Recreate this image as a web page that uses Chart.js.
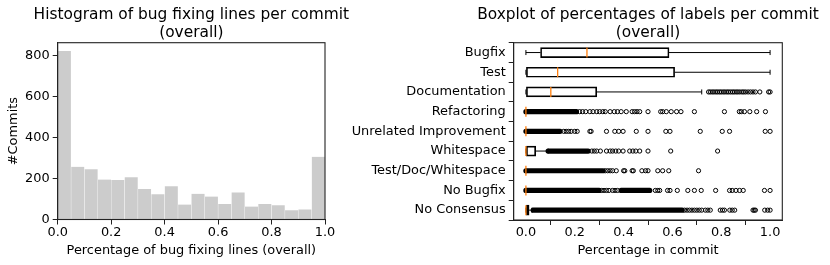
<!DOCTYPE html>
<html>
<head>
<meta charset="utf-8">
<script src="https://cdn.jsdelivr.net/npm/chart.js@4.4.0/dist/chart.umd.min.js"></script>
<style>
  body { margin: 0; background: #fff; }
  #wrap { position: relative; width: 830px; height: 265px; }
  canvas { position: absolute; top: 0; }
  #hist { left: 0; }
  #box { left: 340px; }
</style>
</head>
<body>
<div id="wrap">
  <canvas id="hist" width="370" height="265"></canvas>
  <canvas id="box" width="490" height="265"></canvas>
</div>
<script>
// ---- histogram data (bins of width 0.05) ----
const binLeft = [0, 0.05, 0.1, 0.15, 0.2, 0.25, 0.3, 0.35, 0.4, 0.45,
                 0.5, 0.55, 0.6, 0.65, 0.7, 0.75, 0.8, 0.85, 0.9, 0.95];
const binWidth = 0.05;
const commitCounts = [820, 257, 245, 195, 192, 206, 148, 123, 162, 73,
                      125, 112, 75, 132, 63, 75, 70, 45, 49, 305];
const histTicksX = [0, 0.2, 0.4, 0.6, 0.8, 1.0];
const histTicksY = [0, 200, 400, 600, 800];

// ---- boxplot data ----
const labels = ['Bugfix', 'Test', 'Documentation', 'Refactoring', 'Unrelated Improvement',
                'Whitespace', 'Test/Doc/Whitespace', 'No Bugfix', 'No Consensus'];
const whiskerLow  = [0, 0, 0, 0, 0, 0, 0, 0, 0];
const boxQ1       = [0.06, 0, 0, 0, 0, 0, 0, 0, 0];
const boxMedian   = [0.25, 0.13, 0.102, 0, 0, 0, 0, 0, 0];
const boxQ3       = [0.586, 0.609, 0.29, 0, 0, 0.04, 0, 0, 0.013];
const whiskerHigh = [1.0, 1.0, 0.72, 0, 0, 0.091, 0, 0, 0.025];
const boxTicksX = [0, 0.2, 0.4, 0.6, 0.8, 1.0];

// outliers (circles) per row
const outBugfix = [];
const outTest = [];
const outDocumentation = [0.748, 0.755, 0.763, 0.77, 0.778, 0.785, 0.793, 0.8, 0.808, 0.815, 0.823,
  0.83, 0.838, 0.846, 0.853, 0.861, 0.868, 0.876, 0.885, 0.892, 0.9, 0.91, 0.92, 0.93, 0.94, 0.958, 0.994, 1.0];
const outRefactoring = [0.22, 0.232, 0.245, 0.262, 0.275, 0.29, 0.302, 0.315, 0.325, 0.345, 0.362,
  0.375, 0.39, 0.411, 0.435, 0.445, 0.455, 0.466, 0.5, 0.552, 0.56, 0.575, 0.595, 0.617, 0.635,
  0.69, 0.813, 0.874, 0.882, 0.895, 0.917, 0.945, 0.981];
const outUnrelated = [0.155, 0.165, 0.175, 0.185, 0.2, 0.21, 0.262, 0.267, 0.33, 0.364, 0.38, 0.398,
  0.452, 0.5, 0.573, 0.59, 0.714, 0.804, 0.834, 0.98, 1.0];
const outWhitespace = [0.27, 0.28, 0.29, 0.305, 0.33, 0.345, 0.355, 0.368, 0.38, 0.398, 0.425,
  0.438, 0.45, 0.466, 0.5, 0.593, 0.785];
const outTestDocWs = [0.325, 0.335, 0.345, 0.355, 0.37, 0.4, 0.405, 0.435, 0.44, 0.475, 0.49, 0.5,
  0.54, 0.56, 0.585, 0.707];
const outNoBugfix = [0.31, 0.32, 0.33, 0.34, 0.355, 0.365, 0.375, 0.53, 0.54, 0.548, 0.58, 0.59, 0.62,
  0.663, 0.69, 0.718, 0.777, 0.834, 0.845, 0.86, 0.875, 0.89, 0.977, 1.0];
const outNoConsensus = [0.65, 0.66, 0.67, 0.68, 0.69, 0.7, 0.71, 0.72, 0.735, 0.745, 0.755, 0.796,
  0.805, 0.813, 0.835, 0.845, 0.855, 0.93, 0.935, 0.94, 0.978, 0.99, 1.0];

// stretches where the outlier circles overlap into a solid run [from, to]
const denseBugfix = [];
const denseTest = [];
const denseDocumentation = [];
const denseRefactoring = [[0, 0.207]];
const denseUnrelated = [[0, 0.14]];
const denseWhitespace = [[0.091, 0.255]];
const denseTestDocWs = [[0, 0.316]];
const denseNoBugfix = [[0, 0.3], [0.39, 0.507]];
const denseNoConsensus = [[0.03, 0.64]];

const outliers = [outBugfix, outTest, outDocumentation, outRefactoring, outUnrelated,
                  outWhitespace, outTestDocWs, outNoBugfix, outNoConsensus];
const denseRuns = [denseBugfix, denseTest, denseDocumentation, denseRefactoring, denseUnrelated,
                   denseWhitespace, denseTestDocWs, denseNoBugfix, denseNoConsensus];

Chart.defaults.font.family = '"DejaVu Sans", sans-serif';
Chart.defaults.font.size = 12.9;
Chart.defaults.color = '#000';

const AXIS = '#222';

// matplotlib-like full frame + two-line title centred over the plot area
const frameTitle = {
  id: 'frameTitle',
  afterDraw(chart, args, opts) {
    const { ctx, chartArea: a } = chart;
    ctx.save();
    ctx.strokeStyle = AXIS;
    ctx.lineWidth = 1.1;
    ctx.strokeRect(a.left, a.top, a.right - a.left, a.bottom - a.top);
    ctx.fillStyle = '#000';
    ctx.font = '15.4px "DejaVu Sans"';
    ctx.textAlign = 'center';
    ctx.textBaseline = 'alphabetic';
    const cx = (a.left + a.right) / 2;
    opts.lines.forEach((t, i) => ctx.fillText(t, cx, opts.baseline + i * 18.5));
    ctx.restore();
  }
};

const fixedTicks = (vals) => (s) => { s.ticks = vals.map(v => ({ value: v })); };

// ---------- left: histogram ----------
new Chart(document.getElementById('hist'), {
  type: 'bar',
  data: {
    datasets: [{
      data: binLeft.map((b, i) => ({ x: b + binWidth / 2, y: commitCounts[i] })),
      backgroundColor: '#cccccc',
      borderColor: 'rgba(255,255,255,0.25)',
      borderWidth: { left: 0.5, right: 0.5, top: 0, bottom: 0 },
      borderSkipped: false,
      barPercentage: 1,
      categoryPercentage: 1
    }]
  },
  options: {
    responsive: false,
    animation: false,
    devicePixelRatio: 1,
    events: [],
    layout: { padding: { top: 42.7, right: 45, bottom: 0, left: 0 } },
    plugins: {
      legend: { display: false },
      tooltip: { enabled: false },
      frameTitle: { lines: ['Histogram of bug fixing lines per commit', '(overall)'], baseline: 18.8 }
    },
    scales: {
      x: {
        type: 'linear', min: 0, max: 1, offset: false,
        afterBuildTicks: fixedTicks(histTicksX),
        afterFit: (s) => { s.height = 45.5; },
        ticks: { callback: v => v.toFixed(1), maxRotation: 0, autoSkip: false, padding: 0 },
        grid: { drawOnChartArea: false, tickLength: 5, color: AXIS, offset: false },
        border: { color: AXIS },
        title: { display: true, text: 'Percentage of bug fixing lines (overall)', padding: { top: 0, bottom: 6.8 } }
      },
      y: {
        type: 'linear', min: 0, max: 861,
        afterBuildTicks: fixedTicks(histTicksY),
        afterFit: (s) => { s.width = 57.7; },
        ticks: { autoSkip: false, padding: 3 },
        grid: { drawOnChartArea: false, tickLength: 5, color: AXIS },
        border: { color: AXIS },
        title: { display: true, text: '#Commits', padding: { top: 5.5, bottom: 0 } }
      }
    }
  },
  plugins: [frameTitle]
});

// ---------- right: horizontal boxplot ----------
const rows = labels.map((_, i) => i + 1);

const whiskerPts = [];
rows.forEach((p, i) => {
  whiskerPts.push({ x: whiskerLow[i], y: p }, { x: boxQ1[i], y: p }, { x: null, y: null });
  whiskerPts.push({ x: boxQ3[i], y: p }, { x: whiskerHigh[i], y: p }, { x: null, y: null });
});
const capPts = rows.flatMap((p, i) => [{ x: whiskerLow[i], y: p }, { x: whiskerHigh[i], y: p }]);
const medianPts = rows.map((p, i) => ({ x: boxMedian[i], y: p }));
const outlierPts = rows.flatMap((p, i) => outliers[i].map(v => ({ x: v, y: p })));
const densePts = [];
rows.forEach((p, i) => denseRuns[i].forEach(([a, b]) => {
  densePts.push({ x: a, y: p }, { x: b, y: p }, { x: null, y: null });
}));

new Chart(document.getElementById('box'), {
  type: 'bar',
  data: {
    datasets: [
      {
        type: 'bar', indexAxis: 'y', order: 2,
        data: rows.map((p, i) => ({ y: p, x: [boxQ1[i], boxQ3[i]] })),
        backgroundColor: 'rgba(0,0,0,0)',
        borderColor: '#000', borderWidth: 1, borderSkipped: false,
        barThickness: 10
      },
      {
        type: 'line', order: 3, data: whiskerPts,
        borderColor: '#000', borderWidth: 1, pointRadius: 0, spanGaps: false, fill: false
      },
      {
        type: 'scatter', order: 3, data: capPts,
        pointStyle: 'line', pointRotation: 90, pointRadius: 2.5,
        pointBorderColor: '#000', pointBorderWidth: 1
      },
      {
        type: 'line', order: 5, data: densePts,
        borderColor: '#000', borderWidth: 5.2, borderCapStyle: 'round',
        pointRadius: 0, spanGaps: false, fill: false
      },
      {
        type: 'scatter', order: 4, data: outlierPts,
        pointStyle: 'circle', pointRadius: 2.1,
        pointBorderColor: '#000', pointBorderWidth: 1, pointBackgroundColor: 'rgba(0,0,0,0)'
      },
      {
        type: 'scatter', order: 1, data: medianPts,
        pointStyle: 'line', pointRotation: 90, pointRadius: 5,
        pointBorderColor: '#ff7f0e', pointBorderWidth: 1.3
      }
    ]
  },
  options: {
    responsive: false,
    animation: false,
    devicePixelRatio: 1,
    events: [],
    layout: { padding: { top: 42.7, right: 47.7, bottom: 0, left: 0 } },
    plugins: {
      legend: { display: false },
      tooltip: { enabled: false },
      frameTitle: { lines: ['Boxplot of percentages of labels per commit', '(overall)'], baseline: 18.8 }
    },
    scales: {
      x: {
        type: 'linear', min: -0.05, max: 1.05, offset: false,
        afterBuildTicks: fixedTicks(boxTicksX),
        afterFit: (s) => { s.height = 45; },
        ticks: { callback: v => v.toFixed(1), maxRotation: 0, autoSkip: false, padding: 0 },
        grid: { drawOnChartArea: false, tickLength: 5, color: AXIS },
        border: { color: AXIS },
        title: { display: true, text: 'Percentage in commit', padding: { top: 0, bottom: 6.8 } }
      },
      y: {
        type: 'linear', min: 0.5, max: 9.5, reverse: true, offset: false,
        afterBuildTicks: fixedTicks(rows),
        afterFit: (s) => { s.width = 173.7; },
        ticks: { callback: v => labels[v - 1], autoSkip: false, padding: 3 },
        grid: { drawOnChartArea: false, tickLength: 5, color: AXIS },
        border: { color: AXIS }
      }
    }
  },
  plugins: [frameTitle]
});
</script>
</body>
</html>
